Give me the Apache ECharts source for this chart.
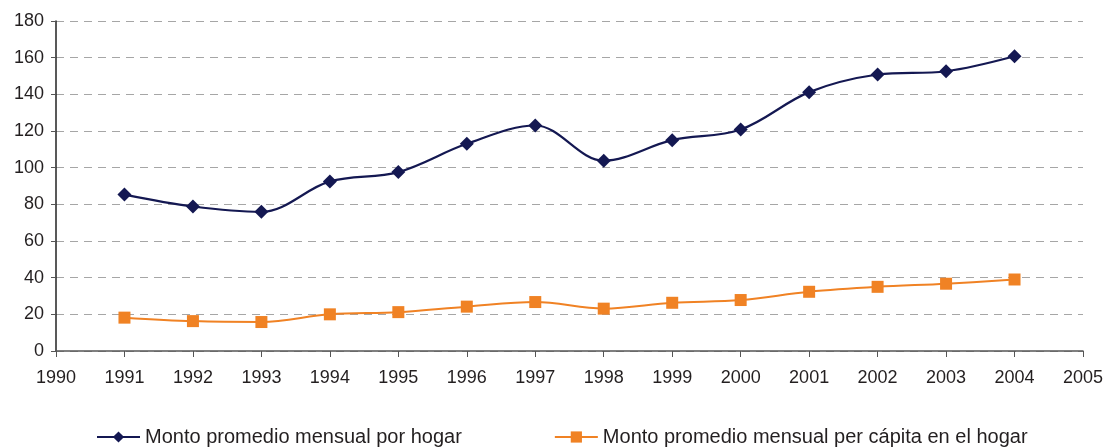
<!DOCTYPE html>
<html>
<head>
<meta charset="utf-8">
<script src="https://cdn.jsdelivr.net/npm/echarts@6/dist/echarts.min.js"></script>
<style>
  html, body { margin: 0; padding: 0; background: #fff; }
  #chart { width: 1107px; height: 448px; }
</style>
</head>
<body>
<div id="chart"></div>
<script>
const years = [1991, 1992, 1993, 1994, 1995, 1996, 1997, 1998, 1999, 2000, 2001, 2002, 2003, 2004];
const porHogar = [85.3, 78.8, 75.9, 92.5, 97.6, 113, 123, 103.8, 115, 120.8, 141.2, 150.8, 152.6, 160.8];
const perCapita = [18.2, 16.3, 15.8, 20, 21.2, 24.2, 26.7, 23.1, 26.3, 27.8, 32.3, 35, 36.7, 39];
const seriesNames = ["Monto promedio mensual por hogar", "Monto promedio mensual per cápita en el hogar"];

const chart = echarts.init(document.getElementById("chart"));

const pairs = (vals) => years.map((y, i) => [y, vals[i]]);
const axisFont = { fontFamily: "Liberation Sans, Arial", fontSize: 18, color: "#231f20" };

const option = {
    animation: false,
    grid: { left: 56, right: 24, top: 21, bottom: 97 },
    legend: {
        top: 427,
        left: 96,
        padding: 0,
        itemGap: 92,
        itemWidth: 43,
        itemHeight: 14,
        textStyle: { fontFamily: "Liberation Sans, Arial", fontSize: 20, lineHeight: 20, color: "#231f20" },
        data: seriesNames,
    },
    xAxis: {
        type: "value",
        min: 1990,
        max: 2005,
        interval: 1,
        axisLine: { lineStyle: { color: "#555", width: 1.5 } },
        axisTick: { show: true, length: 6, lineStyle: { color: "#555" } },
        axisLabel: { ...axisFont, margin: 18, formatter: (v) => String(v) },
        splitLine: { show: false },
    },
    yAxis: {
        type: "value",
        min: 0,
        max: 180,
        interval: 20,
        axisLine: { show: true, lineStyle: { color: "#222", width: 1.5 } },
        axisTick: { show: true, length: 5, lineStyle: { color: "#555" } },
        axisLabel: { ...axisFont, margin: 12 },
        splitLine: { lineStyle: { color: "#a6a6a6", type: [8, 6], width: 1 } },
    },
    series: [
        {
            name: seriesNames[0],
            type: "line",
            smooth: 0.35,
            data: pairs(porHogar),
            symbol: "diamond",
            symbolSize: 14,
            lineStyle: { color: "#141852", width: 2.2 },
            itemStyle: { color: "#141852" },
        },
        {
            name: seriesNames[1],
            type: "line",
            smooth: 0.35,
            data: pairs(perCapita),
            symbol: "rect",
            symbolSize: 12,
            lineStyle: { color: "#f08224", width: 2 },
            itemStyle: { color: "#f08224" },
        },
    ],
};
chart.setOption(option);
</script>
</body>
</html>
